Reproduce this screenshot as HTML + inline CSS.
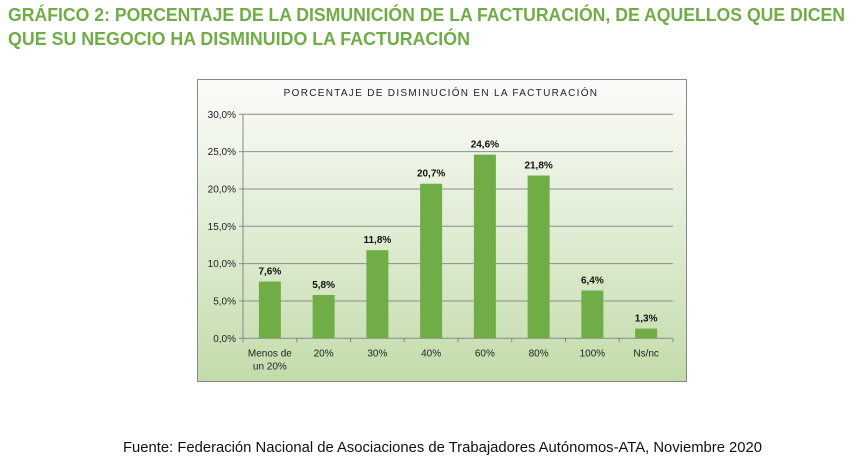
<!DOCTYPE html>
<html><head><meta charset="utf-8"><style>
body{margin:0;background:#fff;width:866px;height:468px;overflow:hidden}
text{font-family:"Liberation Sans",sans-serif}
</style></head><body>
<svg id="c" width="866" height="468" xmlns="http://www.w3.org/2000/svg">
<defs><linearGradient id="bg" x1="0" y1="0" x2="0" y2="1">
<stop offset="0" stop-color="#fbfcf9"/><stop offset="0.35" stop-color="#e8f1df"/><stop offset="1" stop-color="#c3dcab"/></linearGradient></defs>
<text x="8" y="21" font-size="18" font-weight="bold" fill="#70ad47" textLength="837" lengthAdjust="spacingAndGlyphs">GRÁFICO 2: PORCENTAJE DE LA DISMUNICIÓN DE LA FACTURACIÓN, DE AQUELLOS QUE DICEN</text>
<text x="8" y="45" font-size="18" font-weight="bold" fill="#70ad47" textLength="462" lengthAdjust="spacingAndGlyphs">QUE SU NEGOCIO HA DISMINUIDO LA FACTURACIÓN</text>
<rect x="197.5" y="79.5" width="489" height="302" fill="url(#bg)" stroke="#888" stroke-width="1"/>
<text x="441" y="96" font-size="10" fill="#222" text-anchor="middle" letter-spacing="1.3">PORCENTAJE DE DISMINUCIÓN EN LA FACTURACIÓN</text>
<g id="plot"></g>
<text x="123" y="452" font-size="15" fill="#111" textLength="639" lengthAdjust="spacingAndGlyphs">Fuente: Federación Nacional de Asociaciones de Trabajadores Autónomos-ATA, Noviembre 2020</text>
</svg>
<script>
const categories=["Menos de|un 20%","20%","30%","40%","60%","80%","100%","Ns/nc"];
const values=[7.6,5.8,11.8,20.7,24.6,21.8,6.4,1.3];
const ticks=[0,5,10,15,20,25,30];
const X0=243,X1=673,Y0=338.3,Y1=114.3,MAX=30;
const NS="http://www.w3.org/2000/svg";
const g=document.getElementById('plot');
const bw=(X1-X0)/categories.length;
const x=i=>X0+bw*(i+0.5);
const y=v=>Y0-(v/MAX)*(Y0-Y1);
function mk(t,a,txt){const e=document.createElementNS(NS,t);for(const k in a)e.setAttribute(k,a[k]);if(txt!=null)e.textContent=txt;g.appendChild(e);return e;}
const fmt=v=>v.toFixed(1).replace('.',',')+'%';
ticks.forEach(t=>{
 const l=mk('line',{x1:X0-4,x2:X1,y1:y(t),y2:y(t),stroke:t===0?'#888':'#8c8c8c','stroke-width':1});
 
 
 const tx=mk('text',{x:X0-7,y:y(t)+3.5,'font-size':10,'text-anchor':'end',fill:'#222'},fmt(t));
 
 
});
const ax=mk('line',{x1:X0,x2:X0,y1:Y1,y2:Y0+4,stroke:'#888'});


for(let i=0;i<=categories.length;i++){
 const tk=mk('line',{x1:X0+bw*i,x2:X0+bw*i,y1:Y0,y2:Y0+4,stroke:'#888'});
 
 
}
categories.forEach((c,i)=>{
 const b=mk('rect',{x:x(i)-11,y:y(values[i]),width:22,height:Y0-y(values[i]),fill:'#70ad47'});
 
 
 const lb=mk('text',{x:x(i),y:y(values[i])-7,'font-size':10,'font-weight':'bold','text-anchor':'middle',fill:'#111'},fmt(values[i]));
 
 
 c.split('|').forEach((p,j)=>{
  const t=mk('text',{x:x(i),y:Y0+18+j*13,'font-size':10,'text-anchor':'middle',fill:'#222'},p);
  
  
 });
});
</script>
</body></html>
